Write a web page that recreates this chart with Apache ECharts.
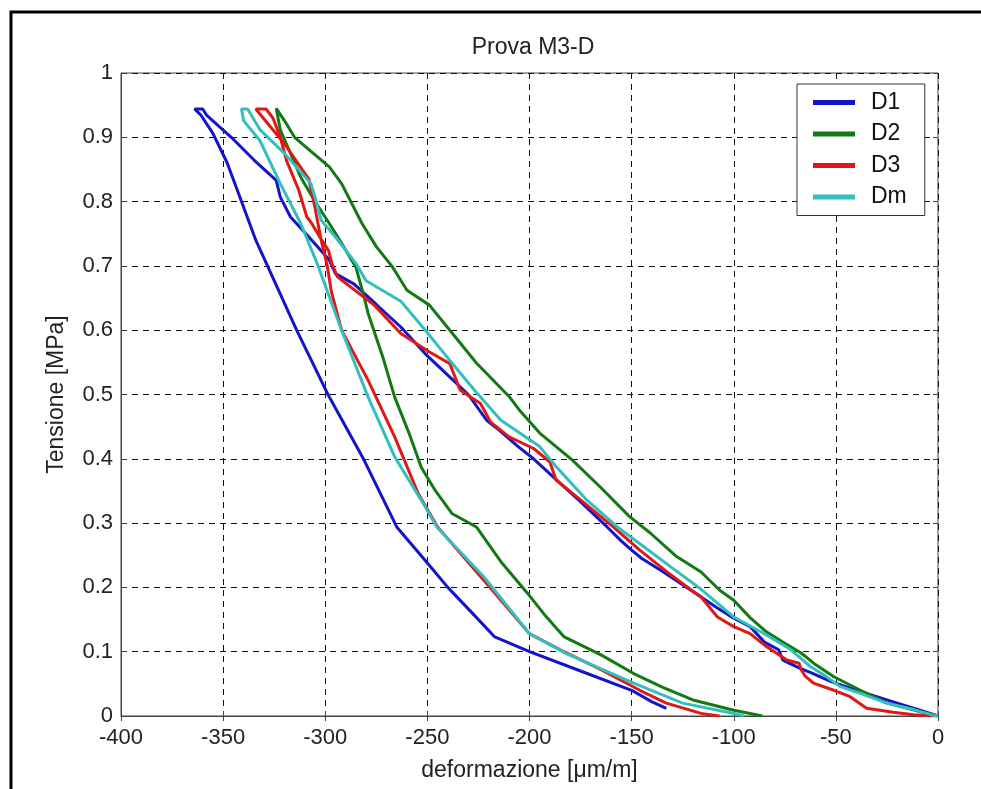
<!DOCTYPE html>
<html>
<head>
<meta charset="utf-8">
<script src="https://cdn.jsdelivr.net/npm/echarts@6/dist/echarts.min.js"></script>
<style>
html,body{margin:0;padding:0;background:#fff;}
#c{width:981px;height:789px;}
</style>
</head>
<body>
<div id="c"></div>
<script>
const titleText = 'Prova M3-D';
const xName = 'deformazione [μm/m]';
const yName = 'Tensione [MPa]';
const seriesNames = ['D1', 'D2', 'D3', 'Dm'];

const d1 = [[0,0],[-12,0.012],[-25,0.025],[-40,0.04],[-52,0.053],[-62,0.067],[-68,0.075],[-76,0.087],[-78,0.103],[-85,0.115],[-92,0.139],[-100,0.152],[-108,0.168],[-116,0.185],[-123,0.2],[-135,0.225],[-145,0.245],[-150,0.258],[-155,0.272],[-162,0.294],[-176,0.336],[-186,0.365],[-198,0.4],[-206,0.42],[-215,0.445],[-221,0.46],[-230,0.5],[-240,0.53],[-250,0.56],[-263,0.605],[-275,0.64],[-286,0.672],[-295,0.688],[-298,0.709],[-308,0.745],[-317,0.776],[-322,0.807],[-324,0.833],[-335,0.865],[-346,0.9],[-358,0.934],[-360,0.944],[-364,0.944],
  [-361,0.935],[-355,0.906],[-348,0.86],[-341,0.8],[-334,0.74],[-325,0.677],[-314,0.6],[-299,0.502],[-281,0.398],[-265,0.294],[-250,0.238],[-240,0.2],[-228,0.16],[-217,0.123],[-200,0.1],[-175,0.07],[-150,0.04],[-140,0.022],[-133,0.012]];

const d2 = [[0,0],[-8,0.006],[-15,0.012],[-25,0.02],[-38,0.04],[-51,0.061],[-60,0.08],[-67,0.098],[-76,0.115],[-84,0.131],[-92,0.153],[-100,0.18],[-107,0.196],[-116,0.224],[-128,0.248],[-141,0.285],[-151,0.31],[-165,0.355],[-179,0.398],[-195,0.44],[-205,0.476],[-210,0.497],[-226,0.549],[-239,0.6],[-249,0.639],[-260,0.662],[-267,0.698],[-275,0.73],[-282,0.766],[-292,0.828],[-298,0.854],[-307,0.878],[-315,0.9],[-320,0.926],[-324,0.945],
  [-322,0.911],[-317,0.875],[-312,0.838],[-305,0.8],[-298,0.766],[-291,0.73],[-285,0.698],[-281,0.652],[-279,0.626],[-272,0.56],[-266,0.496],[-259,0.44],[-253,0.387],[-246,0.35],[-238,0.315],[-226,0.294],[-214,0.24],[-201,0.191],[-192,0.155],[-183,0.123],[-165,0.095],[-149,0.066],[-135,0.045],[-120,0.025],[-100,0.009],[-92,0.004],[-86,0]];

const d3 = [[0,0],[-8,0.001],[-12,0.002],[-22,0.006],[-35,0.012],[-43,0.03],[-51,0.04],[-61,0.051],[-65,0.062],[-67,0.072],[-68,0.082],[-74,0.087],[-84,0.108],[-92,0.128],[-100,0.139],[-108,0.154],[-116,0.185],[-120,0.194],[-133,0.225],[-146,0.258],[-159,0.294],[-175,0.336],[-187,0.367],[-190,0.395],[-198,0.416],[-210,0.434],[-219,0.457],[-224,0.486],[-234,0.507],[-239,0.548],[-249,0.566],[-263,0.595],[-276,0.639],[-292,0.678],[-294,0.683],[-296.8,0.704],[-298.4,0.724],[-301.7,0.74],[-306.6,0.766],[-309,0.776],[-313,0.818],[-319,0.864],[-322,0.9],[-325.6,0.93],[-329,0.944],[-334,0.944],
  [-320,0.89],[-308,0.835],[-305,0.79],[-302,0.74],[-299,0.7],[-297,0.66],[-292,0.6],[-279,0.522],[-266,0.434],[-254.5,0.346],[-245,0.294],[-221,0.206],[-200,0.128],[-185,0.103],[-165,0.072],[-146,0.04],[-133,0.02],[-116,0.004],[-107,0]];

const dm = [[0,0],[-2,0.001],[-12,0.01],[-25,0.02],[-36,0.033],[-48,0.046],[-55,0.062],[-62.5,0.077],[-72,0.103],[-85,0.128],[-100,0.154],[-116,0.197],[-130,0.23],[-146,0.268],[-157,0.294],[-172,0.336],[-187,0.388],[-195,0.419],[-214,0.46],[-227,0.507],[-239,0.553],[-251,0.6],[-263,0.645],[-280,0.677],[-285,0.704],[-295,0.745],[-302,0.771],[-305,0.807],[-307,0.828],[-320,0.875],[-332,0.912],[-338,0.944],[-341,0.944],
  [-340,0.926],[-332,0.895],[-322,0.828],[-312,0.766],[-304,0.704],[-298,0.652],[-292,0.6],[-279,0.496],[-266,0.403],[-251,0.325],[-245.4,0.294],[-222.5,0.217],[-200,0.128],[-182,0.097],[-149,0.051],[-125,0.02],[-100,0.004],[-95,0]];

const seriesData = [d1, d2, d3, dm];
const colors = ['#1414c8', '#137a13', '#e01818', '#33bfbf'];

const font = 'Arial, "Liberation Sans", Helvetica, sans-serif';
const chart = echarts.init(document.getElementById('c'), null, {renderer: 'canvas'});

const gridLine = {show: true, lineStyle: {color: '#111', type: [6, 5], width: 1}};

chart.setOption({
  animation: false,
  backgroundColor: '#fff',
  title: {
    text: titleText, left: 528, top: 31, textAlign: 'center',
    textStyle: {fontFamily: font, fontSize: 23, fontWeight: 'normal', color: '#222'}
  },
  legend: {
    data: seriesNames, orient: 'vertical', left: 797, top: 84,
    backgroundColor: '#fff', borderColor: '#333', borderWidth: 1,
    padding: [7, 18, 7, 16], itemGap: 8.5, itemWidth: 42, itemHeight: 5,
    icon: 'rect',
    textStyle: {fontFamily: font, fontSize: 23, color: '#111', lineHeight: 22, padding: [0, 0, 0, 11]}
  },
  graphic: [{type: 'rect', shape: {x: 11, y: 12, width: 1100, height: 1100}, style: {fill: 'none', stroke: '#000', lineWidth: 3}, z: 100}],
  grid: {left: 121, right: 43, top: 73, bottom: 73, show: true, borderColor: '#444', borderWidth: 1},
  xAxis: [{
    type: 'value', min: -400, max: 0, interval: 50, position: 'bottom',
    name: xName, nameLocation: 'middle', nameGap: 43,
    nameTextStyle: {fontFamily: font, fontSize: 23, color: '#222'},
    axisLine: {show: true, onZero: false, lineStyle: {color: '#444'}},
    axisTick: {show: true, inside: true, length: 5, lineStyle: {color: '#444'}},
    axisLabel: {fontFamily: font, fontSize: 22, color: '#222', margin: 11},
    splitLine: gridLine
  }, {
    type: 'value', min: -400, max: 0, interval: 50, position: 'top',
    axisLine: {show: false}, axisTick: {show: true, inside: true, length: 5, lineStyle: {color: '#444'}},
    axisLabel: {show: false}, splitLine: {show: false}
  }],
  yAxis: [{
    type: 'value', min: 0, max: 1, interval: 0.1, position: 'left',
    name: yName, nameLocation: 'middle', nameGap: 53, nameRotate: 90,
    nameTextStyle: {fontFamily: font, fontSize: 23, color: '#222'},
    axisLine: {show: true, onZero: false, lineStyle: {color: '#444'}},
    axisTick: {show: true, inside: true, length: 5, lineStyle: {color: '#444'}},
    axisLabel: {fontFamily: font, fontSize: 22, color: '#222', margin: 8, formatter: v => String(+v.toFixed(1))},
    splitLine: gridLine
  }, {
    type: 'value', min: 0, max: 1, interval: 0.1, position: 'right',
    axisLine: {show: false}, axisTick: {show: true, inside: true, length: 5, lineStyle: {color: '#444'}},
    axisLabel: {show: false}, splitLine: {show: false}
  }],
  series: seriesNames.map((n, i) => ({
    name: n, type: 'line', data: seriesData[i], showSymbol: false, symbol: 'none',
    lineStyle: {width: 3, color: colors[i]}, itemStyle: {color: colors[i]},
    clip: true, z: 2 + i
  }))
});
</script>
</body>
</html>
